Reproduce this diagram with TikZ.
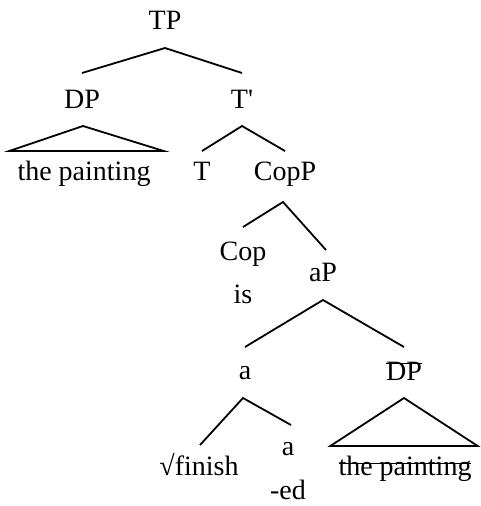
\documentclass[tikz,border=0pt]{standalone}
\usepackage{fontspec}
\setmainfont{Liberation Serif}
\usepackage{tikz}

\newcommand{\strikeat}[2]{\setbox0\hbox{#2}\rlap{\rule[#1]{\wd0}{1.2pt}}\box0}

\begin{document}
\begin{tikzpicture}[x=1pt,y=-1pt,
  lbl/.style={anchor=base,inner sep=0pt,font=\fontsize{28}{31}\selectfont},
  br/.style={line width=1.8pt}]
\useasboundingbox (0,0) rectangle (480,506);
% labels
\node[lbl] (tp)   at (165,29)  {TP};
\node[lbl] (dp)   at (82,108)  {DP};
\node[lbl] (tbar) at (242,108) {T\textquotesingle};
\node[lbl] (np1)  at (84,180)  {the painting};
\node[lbl] (t)    at (202,180) {T};
\node[lbl] (copp) at (285,180) {CopP};
\node[lbl] (cop)  at (243,260) {Cop};
\node[lbl] (ap)   at (323,281) {aP};
\node[lbl] (is)   at (243,303) {is};
\node[lbl] (a)    at (245,379) {a};
\node[lbl] (dpb)  at (404,380) {\strikeat{16pt}{DP}};
\node[lbl] (root) at (199,475) {√finish};
\node[lbl] (asuf) at (288,455) {a};
\node[lbl] (ed)   at (288,499) {-ed};
\node[lbl] (np2)  at (405,475) {\strikeat{11pt}{the painting}};
% branches
\draw[br] ([yshift=35pt]dp.base) -- ([yshift=-19pt]tp.base) -- ([yshift=35pt]tbar.base);
\draw[br] ([yshift=29pt]t.base) -- ([yshift=-18pt]tbar.base) -- ([yshift=29pt]copp.base);
\draw[br] ([yshift=33pt]cop.base) -- ([xshift=-2pt,yshift=-22pt]copp.base) -- ([xshift=3pt,yshift=31pt]ap.base);
\draw[br] ([yshift=32pt]a.base) -- ([yshift=-19pt]ap.base) -- ([yshift=33pt]dpb.base);
\draw[br] ([xshift=1pt,yshift=30pt]root.base) -- ([xshift=-2pt,yshift=-19pt]a.base) -- ([xshift=3pt,yshift=30pt]asuf.base);
% triangles
\draw[br] ([xshift=1pt,yshift=-18pt]dp.base) -- ([xshift=-8pt,yshift=29pt]np1.base west) -- ([xshift=13pt,yshift=29pt]np1.base east) -- cycle;
\draw[br] ([yshift=-18pt]dpb.base) -- ([xshift=-8pt,yshift=29pt]np2.base west) -- ([xshift=6pt,yshift=29pt]np2.base east) -- cycle;
\end{tikzpicture}
\end{document}
